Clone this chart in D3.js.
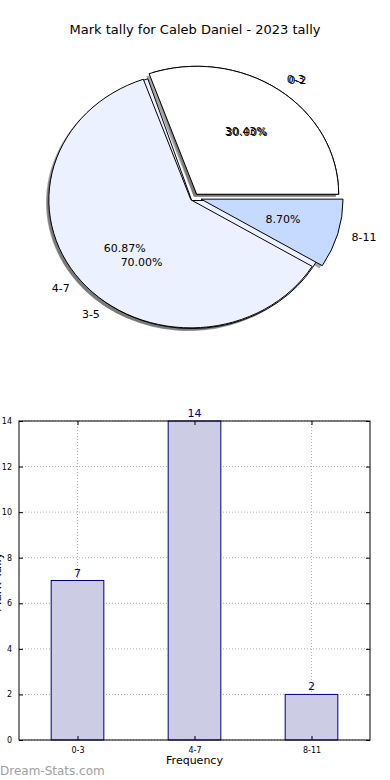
<!DOCTYPE html>
<html><head><meta charset="utf-8">
<script src="https://cdn.jsdelivr.net/npm/d3@7"></script>
<style>body{margin:0;background:#fff}svg{display:block;font-family:"DejaVu Sans",sans-serif}</style>
</head><body>
<svg id="c" width="390" height="780"></svg>
<script>
// ---- data ----
const title = "Mark tally for Caleb Daniel - 2023 tally";
const pieBackLabels = ["0-2", "3-5"];
const pieBackValues = [30, 70];
const categories = ["0-3", "4-7", "8-11"];
const counts = [7, 14, 2];
const yTicks = [0, 2, 4, 6, 8, 10, 12, 14];
const xLabel = "Frequency";
const yLabel = "Mark Tally";
const watermark = "Dream-Stats.com";

const svg = d3.select("#c");
svg.append("text").attr("x", 195).attr("y", 34).attr("text-anchor", "middle")
  .attr("font-size", 13).attr("fill", "#000").text(title);

// ---- pies (elliptical, matplotlib style: start at 3 o'clock, counter-clockwise) ----
const cx = 194.2, cy = 197.4, Rx = 142, Ry = 128;
const pieGen = d3.pie().sort(null).startAngle(Math.PI / 2).endAngle(Math.PI / 2 - 2 * Math.PI);
const arcGen = d3.arc().innerRadius(0).outerRadius(1);
const backColors = ["#ffffff", "#ebf1ff"];
const frontColors = ["#ffffff", "#ebf1ff", "#c6d9ff"];
const backExplode = [0.03, 0.03];
const frontExplode = [0.03, 0.03, 0.05];

function layout(values, labels, explode) {
  const total = d3.sum(values);
  return pieGen(values).map((d, i) => {
    const m = (d.startAngle + d.endAngle) / 2;
    const ux = Math.sin(m), uy = -Math.cos(m);
    return { d, i, label: labels[i], pct: (100 * values[i] / total).toFixed(2) + "%",
      ox: cx + explode[i] * Rx * ux, oy: cy + explode[i] * Ry * uy, ux, uy };
  });
}
const back = layout(pieBackValues, pieBackLabels, backExplode);
const front = layout(counts, categories, frontExplode);
const pieG = svg.append("g");

// shadows (all under wedges)
[...back, ...front].forEach(w => {
  pieG.append("path").attr("d", arcGen(w.d))
    .attr("transform", `translate(${w.ox - 0.02 * Rx},${w.oy + 0.02 * Ry}) scale(${Rx},${Ry})`)
    .attr("fill", "#4d4d4d").attr("fill-opacity", 0.5);
});
function drawWedges(arr, colors) {
  arr.forEach(w => {
    pieG.append("path").attr("d", arcGen(w.d))
      .attr("transform", `translate(${w.ox},${w.oy}) scale(${Rx},${Ry})`)
      .attr("fill", colors[w.i]).attr("stroke", "#000").attr("stroke-width", 1)
      .attr("vector-effect", "non-scaling-stroke").attr("stroke-linejoin", "miter");
  });
}
drawWedges(back, backColors);
drawWedges(front, frontColors);
function drawTexts(arr) {
  arr.forEach(w => {
    pieG.append("text").attr("x", w.ox + 1.1 * Rx * w.ux).attr("y", w.oy + 1.1 * Ry * w.uy)
      .attr("text-anchor", w.ux > 0 ? "start" : "end").attr("dominant-baseline", "central")
      .attr("font-size", 11).attr("fill", "#000").text(w.label);
    pieG.append("text").attr("x", w.ox + 0.6 * Rx * w.ux).attr("y", w.oy + 0.6 * Ry * w.uy)
      .attr("text-anchor", "middle").attr("dominant-baseline", "central")
      .attr("font-size", 11).attr("fill", "#000").text(w.pct);
  });
}
drawTexts(back);
drawTexts(front);

// ---- bar chart ----
const L = 19, R = 370, T = 421, B = 740;
const x = d3.scaleLinear().domain([-0.5, categories.length - 0.5]).range([L, R]);
const y = d3.scaleLinear().domain([0, 14]).range([B, T]);
const barW = 0.45;
const g = svg.append("g");

// grid
g.selectAll(".gy").data(yTicks).join("line").attr("x1", L).attr("x2", R)
  .attr("y1", d => y(d)).attr("y2", d => y(d))
  .attr("stroke", "#b0b0b0").attr("stroke-dasharray", "1,2");
g.selectAll(".gx").data(categories).join("line")
  .attr("x1", (d, i) => x(i)).attr("x2", (d, i) => x(i)).attr("y1", T).attr("y2", B)
  .attr("stroke", "#b0b0b0").attr("stroke-dasharray", "1,2");

// bars
g.selectAll(".bar").data(counts).join("rect")
  .attr("x", (d, i) => x(i - barW / 2)).attr("width", x(barW) - x(0))
  .attr("y", d => y(d)).attr("height", d => B - y(d))
  .attr("fill", "#ccccE5").attr("stroke", "#000080").attr("stroke-width", 1);
g.selectAll(".val").data(counts).join("text")
  .attr("x", (d, i) => x(i)).attr("y", d => y(d) - 4).attr("text-anchor", "middle")
  .attr("font-size", 11).attr("fill", "#000080").text(d => d);

// frame
g.append("rect").attr("x", L).attr("y", T).attr("width", R - L).attr("height", B - T)
  .attr("fill", "none").attr("stroke", "#000").attr("stroke-width", 1);

// axes with inward ticks
const yAxis = d3.axisLeft(y).tickValues(yTicks).tickSize(-4).tickPadding(7).tickFormat(d3.format("d"));
g.append("g").attr("transform", `translate(${L},0)`).call(yAxis);
const yAxisR = d3.axisRight(y).tickValues(yTicks).tickSize(-4).tickFormat("");
g.append("g").attr("transform", `translate(${R},0)`).call(yAxisR);
const xAxis = d3.axisBottom(x).tickValues(d3.range(categories.length)).tickSize(-4).tickPadding(7)
  .tickFormat(i => categories[i]);
g.append("g").attr("transform", `translate(0,${B})`).call(xAxis);
const xAxisT = d3.axisTop(x).tickValues(d3.range(categories.length)).tickSize(-4).tickFormat("");
g.append("g").attr("transform", `translate(0,${T})`).call(xAxisT);
g.selectAll(".domain").remove();
g.selectAll(".tick text").attr("font-size", 8).attr("fill", "#000").attr("font-family", "DejaVu Sans");

svg.append("text").attr("x", 194.5).attr("y", 764).attr("text-anchor", "middle")
  .attr("font-size", 11).attr("fill", "#000").text(xLabel);
svg.append("text").attr("transform", "translate(1,582) rotate(-90)").attr("text-anchor", "middle")
  .attr("font-size", 12).attr("fill", "#000").text(yLabel);
svg.append("text").attr("x", 0).attr("y", 775).attr("font-size", 12)
  .attr("fill", "#a0a0a0").text(watermark);
</script>
</body></html>
